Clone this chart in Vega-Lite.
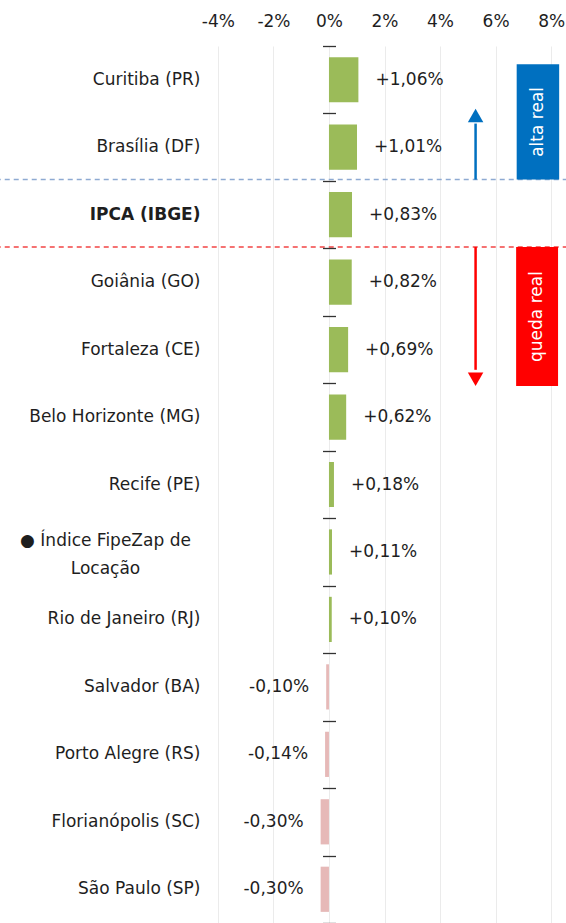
{
  "$schema": "https://vega.github.io/schema/vega-lite/v6.json",
  "width": 361,
  "height": 877,
  "autosize": {"type": "none"},
  "padding": {"left": 204, "top": 46, "right": 1, "bottom": 0},
  "background": "white",
  "config": {"view": {"stroke": null}, "font": "DejaVu Sans", "text": {"font": "DejaVu Sans"}},
  "datasets": {
    "cidades": [
      {"local": "Curitiba (PR)", "v": 1.06, "rotulo": "+1,06%"},
      {"local": "Brasília (DF)", "v": 1.01, "rotulo": "+1,01%"},
      {"local": "IPCA (IBGE)", "v": 0.83, "rotulo": "+0,83%"},
      {"local": "Goiânia (GO)", "v": 0.82, "rotulo": "+0,82%"},
      {"local": "Fortaleza (CE)", "v": 0.69, "rotulo": "+0,69%"},
      {"local": "Belo Horizonte (MG)", "v": 0.62, "rotulo": "+0,62%"},
      {"local": "Recife (PE)", "v": 0.18, "rotulo": "+0,18%"},
      {"local": "● Índice FipeZap de Locação", "v": 0.11, "rotulo": "+0,11%"},
      {"local": "Rio de Janeiro (RJ)", "v": 0.10, "rotulo": "+0,10%"},
      {"local": "Salvador (BA)", "v": -0.10, "rotulo": "-0,10%"},
      {"local": "Porto Alegre (RS)", "v": -0.14, "rotulo": "-0,14%"},
      {"local": "Florianópolis (SC)", "v": -0.30, "rotulo": "-0,30%"},
      {"local": "São Paulo (SP)", "v": -0.30, "rotulo": "-0,30%"}
    ],
    "ann": [
      {"tipo": "alta", "xa": 5.28, "ya": 1.98, "ya2": 1.15, "yh": 1.03, "rx": 6.76, "rx2": 8.29, "ry": 0.27, "ry2": 1.98, "tx": 7.53, "ty": 1.125, "texto": "alta real", "yl": 1.98, "xl": -12, "xl2": 8.6},
      {"tipo": "queda", "xa": 5.28, "ya": 2.98, "ya2": 4.8, "yh": 4.94, "rx": 6.74, "rx2": 8.25, "ry": 2.98, "ry2": 5.04, "tx": 7.5, "ty": 4.01, "texto": "queda real", "yl": 2.98, "xl": -12, "xl2": 8.6}
    ]
  },
  "resolve": {"scale": {"y": "independent"}, "axis": {"y": "independent"}},
  "layer": [
    {
      "data": {"name": "cidades"},
      "mark": {"type": "bar"},
      "encoding": {
        "y": {
          "field": "local", "type": "nominal",
          "scale": {"type": "band", "domain": ["Curitiba (PR)", "Brasília (DF)", "IPCA (IBGE)", "Goiânia (GO)", "Fortaleza (CE)", "Belo Horizonte (MG)", "Recife (PE)", "● Índice FipeZap de Locação", "Rio de Janeiro (RJ)", "Salvador (BA)", "Porto Alegre (RS)", "Florianópolis (SC)", "São Paulo (SP)"], "paddingInner": 0.33, "paddingOuter": 0.165},
          "axis": {
            "orient": "left", "title": null, "domain": false, "ticks": false,
            "labelFontSize": 17, "labelColor": "#1E1E1E", "labelLimit": 400, "labelLineHeight": 28,
            "labelPadding": {"condition": {"test": "datum.value == '● Índice FipeZap de Locação'", "value": 99}, "value": 4},
            "labelOffset": {"condition": {"test": "datum.value == '● Índice FipeZap de Locação'", "value": -11}, "value": 0},
            "labelAlign": {"condition": {"test": "datum.value == '● Índice FipeZap de Locação'", "value": "center"}, "value": "right"},
            "labelFontWeight": {"condition": {"test": "datum.value == 'IPCA (IBGE)'", "value": "bold"}, "value": "normal"},
            "labelExpr": "datum.value == '● Índice FipeZap de Locação' ? ['● Índice FipeZap de', 'Locação'] : datum.value"
          }
        },
        "x": {
          "field": "v", "type": "quantitative",
          "scale": {"domain": [-4.5, 8.5], "nice": false, "zero": false},
          "axis": {
            "orient": "top", "title": null, "values": [-4, -2, 0, 2, 4, 6, 8],
            "labelExpr": "datum.value + '%'", "domain": false, "ticks": false, "tickSize": 0,
            "labelPadding": 16, "labelFontSize": 17, "labelColor": "#1E1E1E",
            "grid": true, "gridColor": "#EBEBEB", "gridWidth": 1
          }
        },
        "color": {"condition": {"test": "datum.v < 0", "value": "#E6B9B8"}, "value": "#9BBB59"}
      }
    },
    {
      "mark": {"type": "rule", "color": "#3A3A3A", "strokeWidth": 1.5},
      "encoding": {"x": {"datum": 0, "type": "quantitative", "title": null}}
    },
    {
      "data": {"name": "cidades"},
      "transform": [{"filter": "datum.v >= 0"}],
      "mark": {"type": "text", "align": "left", "dx": 17, "fontSize": 17, "color": "#1E1E1E", "baseline": "middle"},
      "encoding": {
        "y": {
          "field": "local", "type": "nominal",
          "scale": {"type": "band", "domain": ["Curitiba (PR)", "Brasília (DF)", "IPCA (IBGE)", "Goiânia (GO)", "Fortaleza (CE)", "Belo Horizonte (MG)", "Recife (PE)", "● Índice FipeZap de Locação", "Rio de Janeiro (RJ)", "Salvador (BA)", "Porto Alegre (RS)", "Florianópolis (SC)", "São Paulo (SP)"], "paddingInner": 0, "paddingOuter": 0},
          "axis": {"orient": "left", "title": null, "offset": -131.5, "labels": false, "domain": false, "ticks": true, "tickSize": 13, "tickColor": "#333", "tickWidth": 1.3, "tickBand": "extent", "zindex": 1, "grid": false}
        },
        "x": {"field": "v", "type": "quantitative", "title": null},
        "text": {"field": "rotulo"}
      }
    },
    {
      "data": {"name": "cidades"},
      "transform": [{"filter": "datum.v < 0"}],
      "mark": {"type": "text", "align": "right", "dx": -17, "fontSize": 17, "color": "#1E1E1E", "baseline": "middle"},
      "encoding": {
        "y": {
          "field": "local", "type": "nominal",
          "scale": {"type": "band", "domain": ["Curitiba (PR)", "Brasília (DF)", "IPCA (IBGE)", "Goiânia (GO)", "Fortaleza (CE)", "Belo Horizonte (MG)", "Recife (PE)", "● Índice FipeZap de Locação", "Rio de Janeiro (RJ)", "Salvador (BA)", "Porto Alegre (RS)", "Florianópolis (SC)", "São Paulo (SP)"], "paddingInner": 0, "paddingOuter": 0},
          "axis": null
        },
        "x": {"field": "v", "type": "quantitative", "title": null},
        "text": {"field": "rotulo"}
      }
    },
    {
      "data": {"name": "ann"},
      "transform": [{"filter": "datum.tipo == 'alta'"}],
      "mark": {"type": "rule", "color": "#8EAAD2", "strokeWidth": 1.5, "strokeDash": [5, 4]},
      "encoding": {
        "x": {"field": "xl", "type": "quantitative", "title": null},
        "x2": {"field": "xl2"},
        "y": {"field": "yl", "type": "quantitative", "scale": {"domain": [0, 13], "reverse": true, "nice": false, "zero": false}, "axis": null}
      }
    },
    {
      "data": {"name": "ann"},
      "transform": [{"filter": "datum.tipo == 'queda'"}],
      "mark": {"type": "rule", "color": "#F24444", "strokeWidth": 1.5, "strokeDash": [5, 4]},
      "encoding": {
        "x": {"field": "xl", "type": "quantitative", "title": null},
        "x2": {"field": "xl2"},
        "y": {"field": "yl", "type": "quantitative", "scale": {"domain": [0, 13], "reverse": true, "nice": false, "zero": false}, "axis": null}
      }
    },
    {
      "data": {"name": "ann"},
      "mark": {"type": "rect"},
      "encoding": {
        "x": {"field": "rx", "type": "quantitative", "title": null},
        "x2": {"field": "rx2"},
        "y": {"field": "ry", "type": "quantitative", "scale": {"domain": [0, 13], "reverse": true, "nice": false, "zero": false}, "axis": null},
        "y2": {"field": "ry2"},
        "color": {"field": "tipo", "type": "nominal", "scale": {"domain": ["alta", "queda"], "range": ["#0070C0", "#FF0000"]}, "legend": null}
      }
    },
    {
      "data": {"name": "ann"},
      "mark": {"type": "rule", "strokeWidth": 2.5},
      "encoding": {
        "x": {"field": "xa", "type": "quantitative", "title": null},
        "y": {"field": "ya", "type": "quantitative", "scale": {"domain": [0, 13], "reverse": true, "nice": false, "zero": false}, "axis": null},
        "y2": {"field": "ya2"},
        "color": {"field": "tipo", "type": "nominal", "legend": null}
      }
    },
    {
      "data": {"name": "ann"},
      "mark": {"type": "point", "filled": true, "opacity": 1, "size": 240},
      "encoding": {
        "x": {"field": "xa", "type": "quantitative", "title": null},
        "y": {"field": "yh", "type": "quantitative", "scale": {"domain": [0, 13], "reverse": true, "nice": false, "zero": false}, "axis": null},
        "shape": {"field": "tipo", "type": "nominal", "scale": {"domain": ["alta", "queda"], "range": ["triangle-up", "triangle-down"]}, "legend": null},
        "color": {"field": "tipo", "type": "nominal", "legend": null}
      }
    },
    {
      "data": {"name": "ann"},
      "mark": {"type": "text", "angle": 270, "fontSize": 17, "color": "white", "align": "center", "baseline": "middle"},
      "encoding": {
        "x": {"field": "tx", "type": "quantitative", "title": null},
        "y": {"field": "ty", "type": "quantitative", "scale": {"domain": [0, 13], "reverse": true, "nice": false, "zero": false}, "axis": null},
        "text": {"field": "texto"}
      }
    }
  ]
}
